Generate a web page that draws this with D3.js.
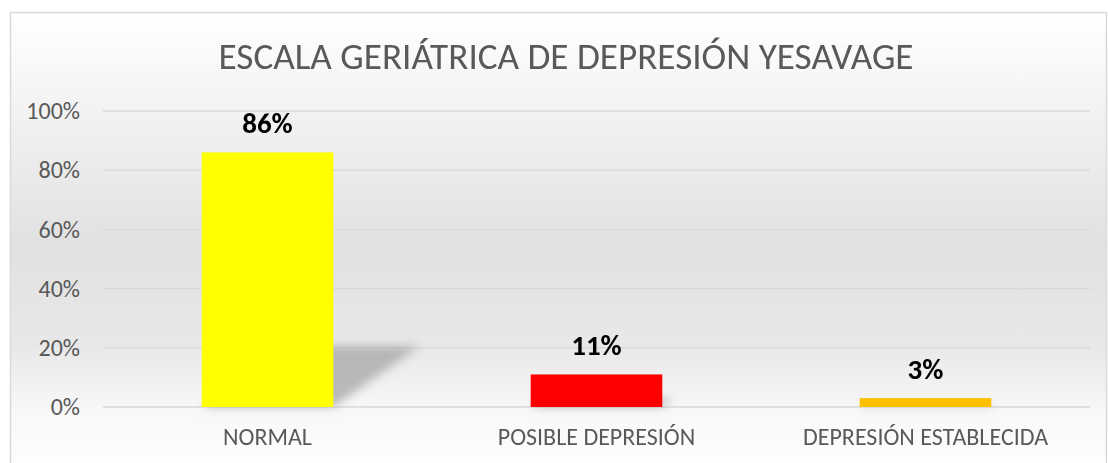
<!DOCTYPE html>
<html>
<head>
<meta charset="utf-8">
<script src="https://cdn.jsdelivr.net/npm/d3@7"></script>
<style>
  body { margin: 0; background: #fff; }
  text { font-family: Carlito, "Open Sans", "Noto Sans", sans-serif; }
</style>
</head>
<body>
<div id="chart"></div>
<script>
/* DATA */
const categories = ["NORMAL", "POSIBLE DEPRESIÓN", "DEPRESIÓN ESTABLECIDA"];
const values = [0.86, 0.11, 0.03];
const valueLabels = ["86%", "11%", "3%"];
const barColors = ["#ffff00", "#ff0000", "#ffc000"];
const yTicks = [0, 0.2, 0.4, 0.6, 0.8, 1.0];
const TITLE = "ESCALA GERIÁTRICA DE DEPRESIÓN YESAVAGE";

const W = 1108, H = 463;
const plot = { left: 103, right: 1090, top: 111, bottom: 407 };
const FONT = 'Carlito, "Open Sans", "Noto Sans", sans-serif';

const svg = d3.select("#chart").append("svg")
  .attr("width", W).attr("height", H);

const defs = svg.append("defs");
const grad = defs.append("linearGradient")
  .attr("id", "bg").attr("x1", 0).attr("y1", 0).attr("x2", 0).attr("y2", 1);
[[0, "#ffffff"], [0.12, "#f8f8f8"], [0.5, "#e1e1e1"], [0.72, "#e8e8e8"], [0.86, "#f8f8f8"], [1, "#ffffff"]]
  .forEach(([o, c]) => grad.append("stop").attr("offset", o).attr("stop-color", c));

defs.append("filter").attr("id", "blur")
  .attr("x", "-50%").attr("y", "-50%").attr("width", "200%").attr("height", "200%")
  .append("feGaussianBlur").attr("stdDeviation", 5);

// chart area background + frame
svg.append("rect")
  .attr("x", 10.5).attr("y", 12.5)
  .attr("width", W - 12).attr("height", H)
  .attr("fill", "url(#bg)")
  .attr("stroke", "#d9d9d9").attr("stroke-width", 1.5);

// scales
const x = d3.scaleBand()
  .domain(categories)
  .range([plot.left, plot.right])
  .paddingInner(0.6)
  .paddingOuter(0.3);

const y = d3.scaleLinear().domain([0, 1]).range([plot.bottom, plot.top]);

// gridlines
svg.append("g")
  .selectAll("line")
  .data(yTicks)
  .enter()
  .append("line")
  .attr("x1", plot.left).attr("x2", plot.right)
  .attr("y1", (d) => y(d)).attr("y2", (d) => y(d))
  .attr("stroke", "#d9d9d9").attr("stroke-width", 1.5);

// y-axis labels
const yAxis = svg.append("g")
  .attr("transform", `translate(${plot.left - 23},0)`)
  .call(d3.axisLeft(y).tickValues(yTicks).tickFormat(d3.format(".0%")).tickSize(0).tickPadding(0));
yAxis.select(".domain").remove();
yAxis.selectAll("text")
  .attr("fill", "#595959").style("font-size", "24px")
  .style("font-family", FONT);

// perspective shadows
svg.append("g")
  .attr("filter", "url(#blur)")
  .selectAll("polygon")
  .data(values)
  .enter()
  .append("polygon")
  .attr("points", (d, i) => {
    const x0 = x(categories[i]), x1 = x0 + x.bandwidth();
    const h = y(0) - y(d);
    const dx = h * 0.34, dy = h * 0.24;
    return [[x0, y(0)], [x1, y(0)], [x1 + dx, y(0) - dy], [x0 + dx, y(0) - dy]]
      .map((p) => p.join(",")).join(" ");
  })
  .attr("fill", "#a6a6a6")
  .attr("opacity", 0.75);

// bars
svg.append("g")
  .selectAll("rect")
  .data(values)
  .enter()
  .append("rect")
  .attr("x", (d, i) => x(categories[i]))
  .attr("y", (d) => y(d))
  .attr("width", x.bandwidth())
  .attr("height", (d) => y(0) - y(d))
  .attr("fill", (d, i) => barColors[i]);

// value labels
svg.append("g")
  .selectAll("text")
  .data(values)
  .enter()
  .append("text")
  .attr("x", (d, i) => x(categories[i]) + x.bandwidth() / 2)
  .attr("y", (d) => y(d) - 19)
  .attr("text-anchor", "middle")
  .style("font-size", "29px")
  .style("font-weight", "bold")
  .attr("fill", "#000")
  .text((d, i) => valueLabels[i]);

// category labels
svg.append("g")
  .selectAll("text")
  .data(categories)
  .enter()
  .append("text")
  .attr("x", (d) => x(d) + x.bandwidth() / 2)
  .attr("y", 445)
  .attr("text-anchor", "middle")
  .style("font-size", "24px")
  .attr("fill", "#595959")
  .text((d) => d);

// title
svg.append("text")
  .attr("x", 566)
  .attr("y", 69)
  .attr("text-anchor", "middle")
  .style("font-size", "36px")
  .attr("fill", "#595959")
  .attr("textLength", 695)
  .attr("lengthAdjust", "spacingAndGlyphs")
  .text(TITLE);
</script>
</body>
</html>
